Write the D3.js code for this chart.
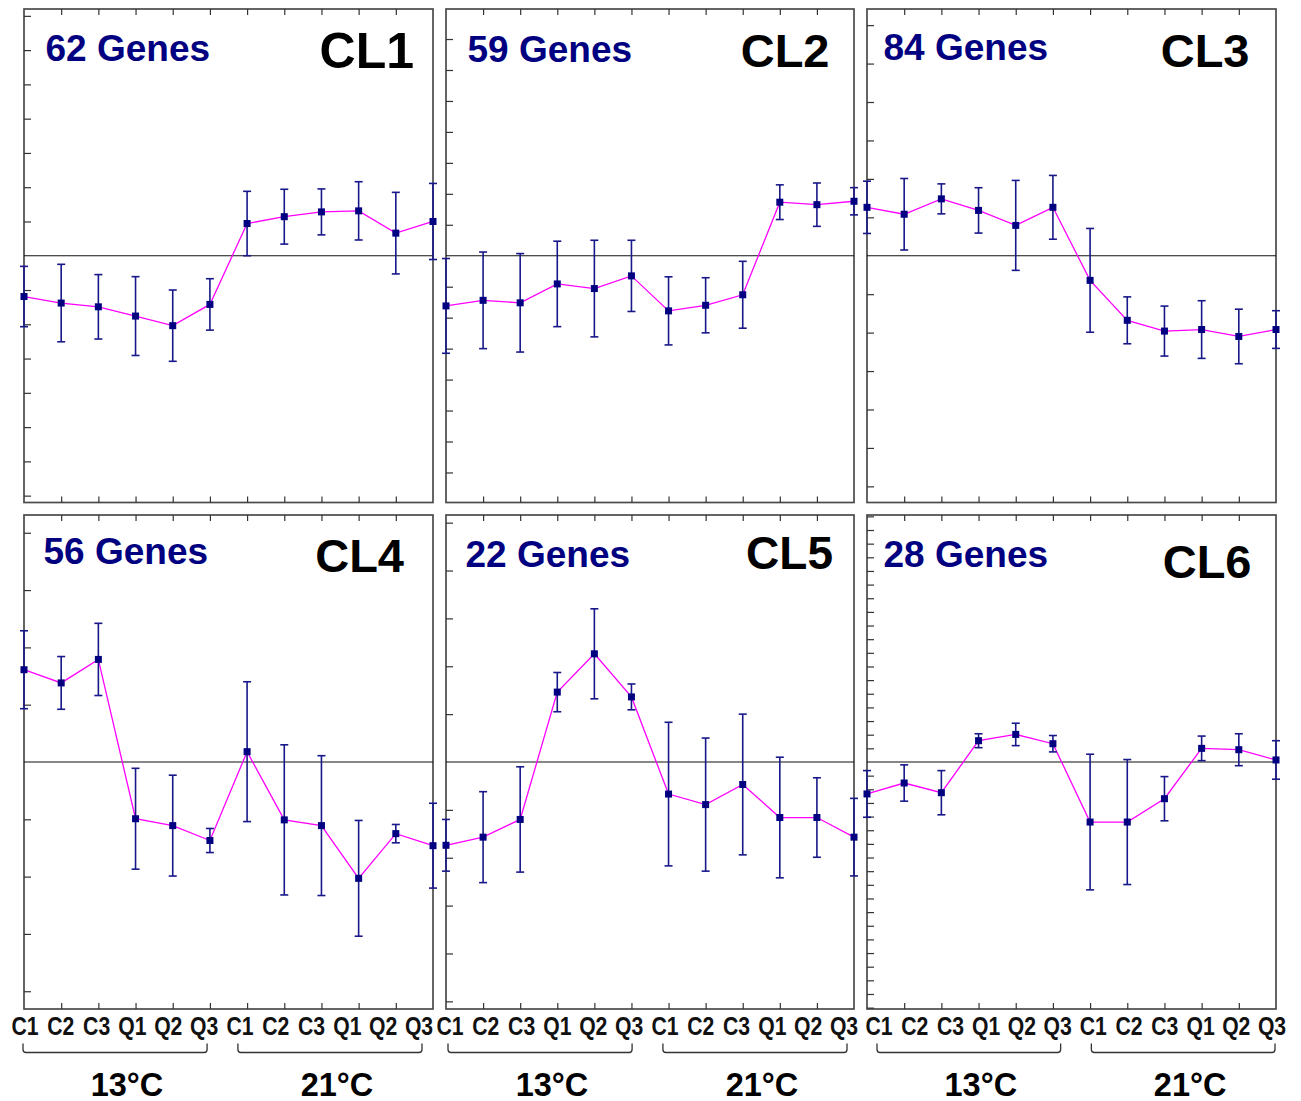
<!DOCTYPE html>
<html>
<head>
<meta charset="utf-8">
<script src="https://cdn.jsdelivr.net/npm/d3@7"></script>
<style>
  html, body { margin: 0; padding: 0; background: #fff; }
  svg { display: block; }
  text { font-family: "Liberation Sans", Arial, "DejaVu Sans", sans-serif; font-weight: bold; }
</style>
</head>
<body>
<svg id="chart" width="1301" height="1101"></svg>
<script>
// ---------------- data ----------------
const categories = ["C1","C2","C3","Q1","Q2","Q3","C1","C2","C3","Q1","Q2","Q3"];
const temperatures = ["13°C", "21°C"];
const clusterNames = ["CL1","CL2","CL3","CL4","CL5","CL6"];
const geneCounts = [62, 59, 84, 56, 22, 28];
// half-range of each panel's y axis (one tick = one unit)
const yLimits = [7.2, 7.97, 6.42, 4.31, 5.16, 18.1];

const cl1Mean = [-1.19, -1.38, -1.49, -1.76, -2.04, -1.42, 0.94, 1.14, 1.28, 1.31, 0.66, 1.00];
const cl1Err  = [ 0.88,  1.13,  0.94,  1.15,  1.04,  0.75, 0.94, 0.80, 0.67, 0.85, 1.19, 1.11];
const cl2Mean = [-1.62, -1.44, -1.52, -0.91, -1.06, -0.65, -1.78, -1.60, -1.26, 1.73, 1.65, 1.76];
const cl2Err  = [ 1.53,  1.56,  1.59,  1.38,  1.56,  1.15,  1.10,  0.89,  1.08, 0.56, 0.70, 0.44];
const cl3Mean = [1.26, 1.08, 1.48, 1.18, 0.79, 1.26, -0.64, -1.68, -1.96, -1.92, -2.10, -1.92];
const cl3Err  = [0.68, 0.93, 0.39, 0.59, 1.17, 0.83,  1.35,  0.61,  0.65,  0.75,  0.71,  0.49];
const cl4Mean = [1.61, 1.38, 1.79, -0.99, -1.11, -1.37, 0.18, -1.01, -1.11, -2.03, -1.25, -1.46];
const cl4Err  = [0.68, 0.46, 0.63,  0.88,  0.88,  0.21, 1.22,  1.31,  1.22,  1.01,  0.16,  0.74];
const cl5Mean = [-1.74, -1.57, -1.20, 1.46, 2.26, 1.36, -0.67, -0.89, -0.47, -1.16, -1.16, -1.57];
const cl5Err  = [ 0.54,  0.95,  1.10, 0.41, 0.94, 0.27,  1.50,  1.39,  1.47,  1.26,  0.83,  0.81];
const cl6Mean = [-2.34, -1.54, -2.25, 1.56, 2.02, 1.34, -4.40, -4.40, -2.69, 1.00, 0.90, 0.15];
const cl6Err  = [ 1.71,  1.33,  1.62, 0.51, 0.82, 0.60,  4.97,  4.58,  1.62, 0.90, 1.17, 1.41];

const means = [cl1Mean, cl2Mean, cl3Mean, cl4Mean, cl5Mean, cl6Mean];
const errs  = [cl1Err, cl2Err, cl3Err, cl4Err, cl5Err, cl6Err];

// ---------------- layout ----------------
const cols = [
  {x0: 24,  x1: 433,  lab0: 25,  lab1: 419},
  {x0: 446, x1: 854,  lab0: 450, lab1: 844},
  {x0: 867, x1: 1276, lab0: 879, lab1: 1272}
];
const rows = [{y0: 9, y1: 502.5}, {y0: 515, y1: 1009}];
const textPos = [
  {gx: 21.5, gy: 52,   cx: -19,   cy: 59,   cs: 50},
  {gx: 21.5, gy: 52.7, cx: -24.5, cy: 57.7, cs: 47},
  {gx: 16.5, gy: 51,   cx: -26.5, cy: 57.7, cs: 47},
  {gx: 19.5, gy: 49,   cx: -29,   cy: 56.7, cs: 47},
  {gx: 19.5, gy: 51.7, cx: -21,   cy: 54.3, cs: 46},
  {gx: 16.5, gy: 51.7, cx: -24.5, cy: 63.3, cs: 47}
];
const tempOffsets = [12, 7];

const NAVY = "#000080";
const BAR = "#18188a";
const MAGENTA = "#ff00ff";
const FRAME = "#4a4a4a";

const svg = d3.select("#chart");
const idx = d3.range(categories.length);

clusterNames.forEach((name, p) => {
  const col = cols[p % 3], row = rows[Math.floor(p / 3)];
  const x = d3.scalePoint().domain(idx).range([col.x0, col.x1]).padding(0);
  const y = d3.scaleLinear().domain([-yLimits[p], yLimits[p]]).range([row.y1, row.y0]);
  const g = svg.append("g");

  // frame
  g.append("rect").attr("x", col.x0).attr("y", row.y0)
    .attr("width", col.x1 - col.x0).attr("height", row.y1 - row.y0)
    .attr("fill", "#fff").attr("stroke", FRAME).attr("stroke-width", 1.7);

  // left y ticks (inside)
  const lim = Math.floor(yLimits[p] - 0.05);
  const yTicks = d3.range(-lim, lim + 1).filter(v => v !== 0);
  const yAxis = d3.axisRight(y).tickValues(yTicks).tickSize(7).tickFormat("");
  const ya = g.append("g").attr("transform", `translate(${col.x0},0)`).call(yAxis);
  ya.select(".domain").remove();
  ya.selectAll("line").attr("stroke", "#333").attr("stroke-width", 1.2);

  // top and bottom x ticks (inside)
  const inner = idx.slice(1, -1);
  const topAxis = d3.axisBottom(x).tickValues(inner).tickSize(6).tickFormat("");
  const ta = g.append("g").attr("transform", `translate(0,${row.y0})`).call(topAxis);
  ta.select(".domain").remove();
  ta.selectAll("line").attr("stroke", "#333").attr("stroke-width", 1.2);
  const botAxis = d3.axisTop(x).tickValues(inner).tickSize(6).tickFormat("");
  const ba = g.append("g").attr("transform", `translate(0,${row.y1})`).call(botAxis);
  ba.select(".domain").remove();
  ba.selectAll("line").attr("stroke", "#333").attr("stroke-width", 1.2);

  // zero line
  g.append("line").attr("x1", col.x0).attr("x2", col.x1)
    .attr("y1", y(0)).attr("y2", y(0))
    .attr("stroke", "#111").attr("stroke-width", 1.2);

  // magenta line
  const line = d3.line().x((d, i) => x(i)).y(d => y(d));
  g.append("path").datum(means[p]).attr("d", line)
    .attr("fill", "none").attr("stroke", MAGENTA).attr("stroke-width", 1.3);

  // error bars
  const eb = g.append("g").attr("stroke", BAR).attr("stroke-width", 1.6).attr("fill", "none");
  means[p].forEach((m, i) => {
    const e = errs[p][i];
    const cx = x(i);
    eb.append("line").attr("x1", cx).attr("x2", cx).attr("y1", y(m + e)).attr("y2", y(m - e));
    eb.append("line").attr("x1", cx - 4).attr("x2", cx + 4).attr("y1", y(m + e)).attr("y2", y(m + e));
    eb.append("line").attr("x1", cx - 4).attr("x2", cx + 4).attr("y1", y(m - e)).attr("y2", y(m - e));
  });

  // markers
  g.append("g").selectAll("rect").data(means[p]).join("rect")
    .attr("x", (d, i) => x(i) - 3.5).attr("y", d => y(d) - 3.5)
    .attr("width", 7).attr("height", 7).attr("fill", NAVY);

  // texts
  const tp = textPos[p];
  g.append("text").attr("x", col.x0 + tp.gx).attr("y", row.y0 + tp.gy)
    .attr("fill", NAVY).attr("font-size", 37).text(geneCounts[p] + " Genes");
  g.append("text").attr("x", col.x1 + tp.cx).attr("y", row.y0 + tp.cy)
    .attr("text-anchor", "end").attr("fill", "#000").attr("font-size", tp.cs).text(name);
});

// ---------------- bottom category labels, braces, temperatures ----------------
cols.forEach(col => {
  const lx = d3.scalePoint().domain(idx).range([col.lab0, col.lab1]).padding(0);
  const lg = svg.append("g");
  lg.selectAll("text").data(idx).join("text")
    .attr("transform", i => `translate(${lx(i)},1035) scale(0.83,1)`)
    .attr("text-anchor", "middle").attr("font-size", 25.5).attr("fill", "#111")
    .text(i => categories[i]);

  temperatures.forEach((t, k) => {
    const xa = lx(k * 6) - 2, xb = lx(k * 6 + 5) + 3;
    const yt = 1043.5, yb = 1052.5, r = 3;
    const path = d3.path();
    path.moveTo(xa, yt);
    path.lineTo(xa, yb - r);
    path.quadraticCurveTo(xa, yb, xa + r, yb);
    path.lineTo(xb - r, yb);
    path.quadraticCurveTo(xb, yb, xb, yb - r);
    path.lineTo(xb, yt);
    lg.append("path").attr("d", path.toString())
      .attr("fill", "none").attr("stroke", "#333").attr("stroke-width", 1.3);
    lg.append("text").attr("x", (xa + xb) / 2 + tempOffsets[k]).attr("y", 1095.5)
      .attr("text-anchor", "middle").attr("font-size", 32.5).attr("fill", "#000").text(t);
  });
});
</script>
</body>
</html>
